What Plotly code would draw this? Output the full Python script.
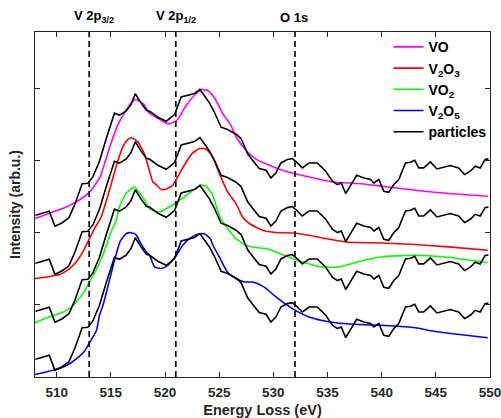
import plotly.graph_objects as go

# ---------------- data ----------------
vo_energy = [508.0, 509.66, 510.90, 511.80, 512.97, 513.98, 514.90, 515.68, 516.60, 517.29, 518.03, 518.58,
             519.50, 520.33, 521.11, 521.96, 522.81, 523.41, 524.01, 524.65, 525.32, 526.03, 526.58, 527.48,
             528.40, 529.62, 530.84, 531.92, 533.92, 535.44, 537.90, 540.04, 543.12, 546.18, 549.81]
vo_intensity = [2.200, 2.292, 2.361, 2.431, 2.556, 2.767, 3.194, 3.510, 3.750, 3.853, 3.788, 3.658,
                3.579, 3.514, 3.565, 3.774, 3.926, 3.993, 3.971, 3.857, 3.658, 3.510, 3.329, 3.149,
                3.024, 2.940, 2.871, 2.825, 2.756, 2.708, 2.686, 2.649, 2.593, 2.547, 2.510]

v2o3_energy = [508.0, 509.04, 510.27, 511.19, 511.80, 512.42, 512.88, 513.49, 514.10, 514.87, 515.48, 516.10,
               516.56, 516.92, 517.48, 518.09, 518.55, 518.88, 519.19, 519.66, 520.05, 520.72, 521.34, 521.89,
               522.56, 523.18, 523.82, 524.40, 525.02, 525.78, 526.56, 527.16, 527.78, 529.00, 530.24, 531.76,
               533.30, 534.84, 536.68, 540.04, 543.12, 546.18, 549.80]
v2o3_intensity = [1.367, 1.389, 1.422, 1.506, 1.597, 1.736, 1.875, 2.061, 2.218, 2.593, 2.917, 3.194,
                  3.297, 3.322, 3.264, 3.103, 2.871, 2.708, 2.669, 2.603, 2.607, 2.663, 2.825, 2.968,
                  3.111, 3.172, 3.163, 3.056, 2.825, 2.569, 2.408, 2.222, 2.131, 2.038, 2.006, 2.000,
                  1.968, 1.922, 1.875, 1.861, 1.839, 1.806, 1.760]

vo2_energy = [508.0, 509.04, 510.27, 511.19, 511.80, 512.42, 513.03, 513.64, 514.26, 515.02, 515.50, 515.79,
              516.40, 517.02, 517.29, 517.48, 518.09, 518.58, 519.50, 520.42, 521.34, 522.26, 523.24, 523.80,
              524.40, 525.02, 525.78, 526.56, 527.48, 528.40, 529.32, 531.00, 532.22, 534.06, 535.90, 537.74,
              539.90, 542.80, 545.87, 549.80]
vo2_intensity = [0.750, 0.819, 0.881, 0.950, 1.042, 1.158, 1.319, 1.482, 1.690, 2.014, 2.176, 2.361,
                 2.547, 2.625, 2.631, 2.593, 2.461, 2.339, 2.292, 2.361, 2.454, 2.556, 2.663, 2.649,
                 2.524, 2.239, 2.061, 1.922, 1.829, 1.797, 1.783, 1.690, 1.621, 1.538, 1.524, 1.597,
                 1.667, 1.690, 1.667, 1.586]

v2o5_energy = [508.0, 509.66, 510.94, 511.84, 512.51, 513.11, 513.68, 513.95, 514.30, 514.76, 515.34, 515.87,
               516.44, 516.88, 517.32, 517.75, 518.28, 518.58, 519.04, 519.66, 520.26, 521.04, 521.64, 522.26,
               522.99, 523.64, 524.15, 524.47, 525.02, 525.78, 526.56, 527.32, 528.08, 528.86, 529.32, 530.24,
               531.76, 533.30, 535.23, 537.44, 539.90, 541.58, 543.12, 544.96, 547.40, 549.79]
v2o5_intensity = [0.035, 0.093, 0.163, 0.256, 0.347, 0.496, 0.649, 0.857, 1.010, 1.274, 1.621, 1.885,
                  1.992, 2.003, 1.978, 1.857, 1.736, 1.690, 1.528, 1.506, 1.551, 1.690, 1.829, 1.922,
                  1.982, 1.989, 1.926, 1.815, 1.663, 1.454, 1.367, 1.319, 1.319, 1.274, 1.232, 1.111,
                  0.950, 0.833, 0.764, 0.732, 0.718, 0.704, 0.683, 0.631, 0.586, 0.544]

particles_energy = [508.05, 508.74, 509.32, 509.84, 510.48, 511.13, 511.68, 512.35, 512.88, 513.34, 513.95, 514.56,
                    515.33, 515.79, 516.40, 516.86, 517.26, 517.78, 518.28, 518.58, 519.34, 520.12, 520.88, 521.50,
                    522.26, 522.72, 523.22, 523.69, 524.10, 524.56, 525.18, 525.78, 526.56, 527.02, 527.62, 528.08,
                    528.70, 529.32, 529.78, 530.24, 530.70, 531.30, 531.76, 532.22, 532.68, 533.30, 534.06, 534.84,
                    535.45, 535.91, 536.27, 536.68, 537.19, 537.69, 538.36, 538.98, 539.28, 539.74, 540.20, 540.66,
                    541.12, 541.58, 542.20, 542.66, 543.05, 543.42, 543.88, 544.50, 545.10, 545.72, 546.34, 547.10,
                    547.65, 548.18, 548.64, 549.09, 549.55, 549.86]
particles_intensity = [0.246, 0.274, 0.301, 0.093, 0.139, 0.211, 0.399, 0.683, 0.690, 0.778, 0.996, 1.301,
                       1.663, 1.635, 1.690, 1.783, 1.933, 1.806, 1.704, 1.690, 1.607, 1.551, 1.644, 1.889,
                       1.919, 1.936, 1.992, 1.885, 1.806, 1.676, 1.468, 1.436, 1.371, 1.311, 1.103, 1.010,
                       0.894, 0.871, 0.764, 0.833, 0.972, 1.019, 1.033, 0.972, 0.903, 0.972, 0.972, 0.857,
                       0.718, 0.672, 0.694, 0.547, 0.672, 0.801, 0.764, 0.742, 0.694, 0.742, 0.579, 0.565,
                       0.672, 0.742, 0.972, 0.982, 1.010, 0.903, 0.903, 0.986, 0.889, 0.917, 0.936, 0.903,
                       0.811, 0.857, 0.926, 0.903, 1.019, 1.028]
particle_offsets = [2.0, 1.333, 0.667, 0.0]

edge_energies = [513, 521, 532]
edge_labels = ["V 2p<sub>3/2</sub>", "V 2p<sub>1/2</sub>", "O 1s"]

x_ticks = [510, 515, 520, 525, 530, 535, 540, 545, 550]
y_ticks = [0, 1, 2, 3, 4]

# ---------------- figure ----------------
FONT = "Liberation Sans, Arial, Helvetica, sans-serif"
AX = "#262626"
LW = 1.6

fig = go.Figure()
refs = [
    ("VO", vo_energy, vo_intensity, "#ff00ff"),
    ("V<sub>2</sub>O<sub>3</sub>", v2o3_energy, v2o3_intensity, "#ff0000"),
    ("VO<sub>2</sub>", vo2_energy, vo2_intensity, "#00ff00"),
    ("V<sub>2</sub>O<sub>5</sub>", v2o5_energy, v2o5_intensity, "#0000ff"),
]
for i, (name, xe, yi, col) in enumerate(refs):
    fig.add_trace(go.Scatter(x=xe, y=yi, mode="lines", name=name, legendgroup=f"g{i}",
                             line=dict(color=col, width=LW, shape="spline", smoothing=0.5)))

for k, off in enumerate(particle_offsets):
    fig.add_trace(go.Scatter(x=particles_energy, y=[v + off for v in particles_intensity], mode="lines",
                             name="particles", legendgroup="gp", showlegend=(k == 0),
                             line=dict(color="black", width=LW)))

for e in edge_energies:
    fig.add_shape(type="line", xref="x", yref="paper", x0=e, x1=e, y0=0, y1=1,
                  line=dict(color="black", width=1.6, dash="6px,4px"), layer="above")

label_shift = [0.45, 0.05, -0.1]
for e, lab, s in zip(edge_energies, edge_labels, label_shift):
    fig.add_annotation(x=e + s, y=1, xref="x", yref="paper", text=lab, showarrow=False,
                       yanchor="bottom", yshift=5, font=dict(family=FONT, size=13, color="black", weight="bold"))

axis_common = dict(showline=True, linecolor=AX, linewidth=1, mirror="ticks", ticks="inside",
                   ticklen=5, tickcolor=AX, showgrid=False, zeroline=False, automargin=False)

fig.update_layout(
    width=501, height=418,
    margin=dict(l=35, r=11, t=32, b=41, autoexpand=False),
    paper_bgcolor="white", plot_bgcolor="white",
    font=dict(family=FONT, size=14, color=AX, weight="bold"),
    xaxis=dict(range=[508, 550], tickvals=x_ticks, ticktext=[str(t) for t in x_ticks],
               ticklabelstandoff=3, ticklabeloverflow="allow",
               title=dict(text="Energy Loss (eV)", standoff=10, font=dict(size=14.5, color=AX, weight="bold")),
               tickfont=dict(size=13.5, color=AX, weight="bold"), **axis_common),
    yaxis=dict(range=[0, 4.79], tickvals=y_ticks, showticklabels=False,
               title=dict(text="Intensity (arb.u.)", standoff=10, font=dict(size=14, color=AX, weight="bold")),
               **axis_common),
    legend=dict(x=0.777, y=1.002, xanchor="left", yanchor="top", bgcolor="rgba(255,255,255,0)",
                borderwidth=0, traceorder="grouped", tracegroupgap=0,
                font=dict(family=FONT, size=14, color="black", weight="bold")),
    showlegend=True,
)

fig.write_html("out.html", config={"displayModeBar": False},
               post_script="document.body.style.margin='0';")
